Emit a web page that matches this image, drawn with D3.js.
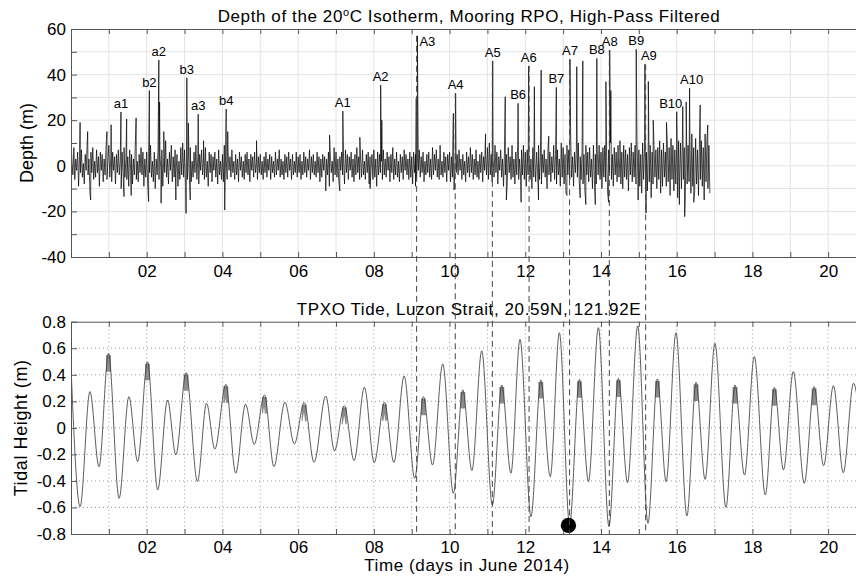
<!DOCTYPE html>
<html><head><meta charset="utf-8">
<script src="https://cdn.jsdelivr.net/npm/d3@7/dist/d3.min.js"></script>
<style>
body{margin:0;background:#fff;}
svg{display:block;font-family:"Liberation Sans",Arial,Helvetica,sans-serif;}
</style></head><body>
<svg id="chart" width="856" height="577"></svg>
<script>
// ---------------- DATA ----------------
const depthStep = 0.025; // days between base samples
const depthBase = [
 11,2,-4,8,-6,3,-2,6,-9,4,-3,7,-5,1,-8,5,-2,9,-4,3,-12,6,-3,8,-6,2,-5,7,-3,4,-9,6,-2,5,-7,3,-4,8,-6,2,
 9,-5,3,-7,6,-2,4,-8,5,-3,7,-4,2,-10,6,-3,8,-5,3,-6,4,-9,7,-2,5,-8,3,-4,10,-6,2,-7,5,-3,8,-4,6,-9,3,-5,
 6,-8,4,-3,9,-5,2,-7,6,-10,3,-4,8,-6,5,-2,7,-9,4,-3,11,-5,3,-8,6,-2,9,-7,4,-5,7,-3,5,-9,2,-6,8,-4,10,-5,
 7,-9,3,-6,5,-4,8,-7,2,-5,6,-3,9,-6,4,-8,5,-2,7,-4,3,-6,8,-5,2,-9,6,-3,5,-7,4,-2,6,-5,3,-8,7,-4,2,-6,
 5,-7,9,-4,3,-6,6,-2,4,-5,7,-3,2,-6,5,-4,3,-7,6,-2,4,-5,2,-6,5,-3,6,-4,3,-7,5,-2,4,-5,6,-3,2,-6,4,-3,
 5,-4,2,-6,4,-3,6,-5,3,-2,5,-6,4,-3,2,-5,6,-4,3,-2,7,-5,3,-4,2,-6,5,-3,4,-5,6,-2,3,-6,5,-4,2,-3,6,-5,
 4,-3,5,-6,2,-4,6,-3,4,-5,3,-2,7,-6,4,-3,5,-4,2,-5,6,-3,4,-7,3,-5,5,-2,4,-6,3,-4,6,-9,5,-3,2,-7,8,-4,
 6,-5,3,-7,4,-2,6,-4,3,-8,7,-3,5,-6,4,-2,6,-5,3,-7,5,-4,8,-3,4,-6,3,-5,7,-4,2,-6,5,-3,6,-8,4,-2,5,-6,
 7,-5,3,-9,6,-4,5,-3,2,-6,7,-4,3,-5,6,-2,4,-7,5,-3,8,-6,3,-4,6,-5,2,-7,5,-3,4,-6,7,-2,5,-4,3,-6,6,-5,
 4,-8,6,-3,5,-6,3,-2,7,-5,4,-3,6,-7,2,-4,5,-3,6,-5,3,-6,8,-4,5,-2,7,-5,3,-6,9,-4,2,-5,6,-3,4,-7,5,-2,
 6,-7,4,-5,3,-8,6,-3,5,-4,7,-2,3,-6,5,-4,2,-7,6,-3,4,-5,8,-3,5,-6,3,-4,7,-5,2,-6,5,-3,6,-7,4,-2,5,-4,
 8,-6,10,-4,5,-7,3,-5,9,-3,6,-8,4,-2,7,-5,3,-9,6,-4,5,-7,8,-3,4,-6,9,-5,3,-8,6,-4,10,-6,3,-5,7,-4,9,-6,
 6,-9,7,-4,5,-6,3,-10,8,-5,4,-7,6,-3,9,-6,4,-8,5,-3,7,-5,3,-10,8,-4,6,-7,4,-3,9,-6,5,-8,7,-4,3,-9,10,-5,
 8,-8,5,-12,9,-4,7,-6,11,-5,4,-9,6,-3,8,-5,10,-7,4,-6,7,-8,5,-11,9,-4,6,-7,8,-5,3,-10,9,-6,5,-8,7,-4,9,-6,
 6,-10,8,-5,9,-7,4,-12,7,-3,10,-6,5,-9,8,-4,6,-7,9,-5,4,-8,6,-10,9,-5,7,-6,5,-11,8,-4,10,-7,6,-5,9,-8,12,-6,
 7,-9,5,-12,10,-6,8,-5,6,-11,12,-7,9,-14,6,-8,9,-5,7,-10,8,-6,11,-12,7,-9,10,-5,6,-9,11,-7,8,-13,12,-6,9,-11,7,-8,
 9,-14,11,-7,10,-10,12,-6,8,-15,13,-8,9,-7,10,-12,14,-9,8,-11,12,-8,7,-13,10,-6,11,-9,8,-15,14,-7,12,-10,9,-12
];
const spikeDays = [0.24,0.44,0.52,0.95,1.06,1.32,1.40,1.47,1.59,1.72,2.05,2.07,2.32,2.34,2.38,2.45,2.77,
 3.04,3.06,3.10,3.15,3.36,3.50,4.06,4.10,4.14,4.90,6.73,6.83,7.10,7.18,7.63,7.90,8.18,8.21,9.10,9.12,9.15,
 10.10,10.12,10.16,10.95,11.14,11.47,11.50,11.81,11.89,12.09,12.24,12.35,12.42,12.62,12.82,13.10,13.18,
 13.36,13.45,13.52,13.60,13.85,13.89,14.13,14.20,14.23,14.26,14.50,14.93,14.98,15.16,15.19,15.25,15.38,
 15.73,16.00,16.07,16.16,16.21,16.25,16.34,16.45,16.62,16.82];
const spikeVals = [19,15,-15,15,18,23.6,-13.5,20.5,-13,21,-15.7,33,46.4,28,-16.4,15,-15,
 -20.9,38.6,18.7,-15,22.6,11,-19.4,24.9,15,11,-11,13.5,-11,24,12.5,-10,35.4,20,-9,29.7,57,
 23,-10.6,31.8,14,46,30.3,-15,27.4,-16,43.8,34.7,-15,42,13,34.4,-13,46.7,
 43.5,-14,46,-17,-17,47.1,36.9,-16,50.8,33,11,51.1,-15,44.5,-20.8,37,20,
 19,23.7,-17,26,-22.3,28,34,-16,26.7,17.9];

const eventNames = ["a1","b2","a2","b3","a3","b4","A1","A2","A3","A4","A5","B6","A6","B7","A7","B8","A8","B9","A9","B10","A10"];
const eventDays  = [1.32,2.07,2.32,3.06,3.36,4.10,7.18,8.18,9.15,10.16,11.14,11.81,12.09,12.82,13.18,13.89,14.23,14.93,15.16,16.00,16.34];
const eventPeaks = [23.6,33,46.4,38.6,22.6,24.9,24,35.4,57,31.8,46,27.4,43.8,34.4,46.7,47.1,50.8,51.1,44.5,23.7,34];

const dashedNames = ["A3","A4","A5","A6","A7","A8","A9"];
const dashedDays  = [9.13,10.15,11.13,12.10,13.17,14.22,15.18];
const dashedTops  = [57,31.8,46,43.8,46.7,50.8,44.5];

// tide extrema (day, metres)
const tideDays = [-0.02,0.24,0.50,0.74,0.99,1.27,1.53,1.76,2.02,2.29,2.55,2.77,3.04,3.34,3.58,3.80,4.09,4.35,4.61,4.84,
 5.11,5.36,5.65,5.90,6.16,6.42,6.73,6.96,7.22,7.48,7.75,8.01,8.28,8.53,8.80,9.08,9.31,9.55,9.82,10.10,
 10.35,10.59,10.85,11.13,11.38,11.62,11.86,12.15,12.41,12.66,12.90,13.17,13.43,13.67,13.93,14.21,14.46,14.70,14.97,15.24,
 15.49,15.72,15.98,16.27,16.51,16.75,17.01,17.30,17.54,17.79,18.05,18.34,18.58,18.82,19.08,19.37,19.63,19.88,20.14,20.40,
 20.67,20.93];
const tideVals = [0.60,-0.594,0.273,-0.293,0.562,-0.531,0.235,-0.254,0.498,-0.468,0.21,-0.204,0.417,-0.405,0.185,-0.161,0.328,-0.342,0.178,-0.124,
 0.248,-0.292,0.193,-0.121,0.19,-0.26,0.24,-0.174,0.168,-0.247,0.306,-0.262,0.193,-0.262,0.391,-0.38,0.235,-0.28,0.482,-0.493,
 0.286,-0.322,0.58,-0.581,0.323,-0.342,0.667,-0.669,0.361,-0.368,0.717,-0.73,0.366,-0.405,0.755,-0.744,0.373,-0.413,0.768,-0.719,
 0.369,-0.405,0.717,-0.664,0.343,-0.388,0.637,-0.599,0.323,-0.355,0.537,-0.506,0.306,-0.317,0.424,-0.418,0.311,-0.285,0.318,-0.338,
 0.336,-0.30];
const tideHighlightDays = [0.99,2.02,3.04,4.09,5.11,6.16,7.22,8.28,9.31,10.35,11.38,12.41,13.43,14.46,15.49,16.51,17.54,18.58,19.63];
const markerDay = 13.14, markerVal = -0.735;

const xTickDays = [1,2,3,4,5,6,7,8,9,10,11,12,13,14,15,16,17,18,19,20,21];
const xTickLabels = {2:"02",4:"04",6:"06",8:"08",10:"10",12:"12",14:"14",16:"16",18:"18",20:"20"};
const topYTicks = [-40,-30,-20,-10,0,10,20,30,40,50,60];
const topYLabels = {"60":"60","40":"40","20":"20","0":"0","-20":"-20","-40":"-40"};
const botYTicks = [-0.8,-0.6,-0.4,-0.2,0,0.2,0.4,0.6,0.8];
const botYLabels = ["-0.8","-0.6","-0.4","-0.2","0","0.2","0.4","0.6","0.8"];

// ---------------- SCALES ----------------
const svg = d3.select("#chart");
const x = d3.scaleLinear().domain([0,21]).range([71,866]);
const yT = d3.scaleLinear().domain([-40,60]).range([257,29]);
const yB = d3.scaleLinear().domain([-0.8,0.8]).range([534,321.7]);
const AX = "#555";

const defs = svg.append("defs");
defs.append("clipPath").attr("id","clipT").append("rect")
  .attr("x",x(0)).attr("y",yT(60)).attr("width",x(21)-x(0)).attr("height",yT(-40)-yT(60));
defs.append("clipPath").attr("id","clipB").append("rect")
  .attr("x",x(0)).attr("y",yB(0.8)).attr("width",x(21)-x(0)).attr("height",yB(-0.8)-yB(0.8));

// ---------------- TOP PANEL ----------------
const gT = svg.append("g");
gT.append("g").selectAll("line").data(xTickDays).join("line")
  .attr("x1",d=>x(d)).attr("x2",d=>x(d)).attr("y1",yT(60)).attr("y2",yT(-40))
  .attr("stroke","#e4e4e4").attr("stroke-width",1);
gT.append("g").selectAll("line").data(topYTicks.filter(v=>v>-40&&v<60)).join("line")
  .attr("x1",x(0)).attr("x2",x(21)).attr("y1",d=>yT(d)).attr("y2",d=>yT(d))
  .attr("stroke","#e4e4e4").attr("stroke-width",1);

const depthPts = depthBase.map((v,i)=>[i*depthStep,v])
  .concat(spikeDays.map((d,i)=>[d,spikeVals[i]]))
  .sort((a,b)=>a[0]-b[0]);
gT.append("path").datum(depthPts).attr("clip-path","url(#clipT)")
  .attr("fill","none").attr("stroke","#000").attr("stroke-width",0.7).attr("stroke-linejoin","round")
  .attr("d",d3.line().x(d=>x(d[0])).y(d=>yT(d[1])));

const fmtX = d => xTickLabels[d] || "";
gT.append("g").attr("transform",`translate(0,${yT(-40)})`)
  .call(d3.axisBottom(x).tickValues(xTickDays).tickFormat(fmtX).tickSizeInner(-5).tickSizeOuter(0).tickPadding(8));
gT.append("g").attr("transform",`translate(0,${yT(60)})`)
  .call(d3.axisTop(x).tickValues(xTickDays).tickFormat("").tickSizeInner(-5).tickSizeOuter(0));
gT.append("g").attr("transform",`translate(${x(0)},0)`)
  .call(d3.axisLeft(yT).tickValues(topYTicks).tickFormat(d=>topYLabels[String(d)]||"").tickSizeInner(-6).tickSizeOuter(0).tickPadding(5));

const nudge = {"A9":4,"B10":-6,"A10":2};
gT.append("g").selectAll("text").data(eventNames).join("text")
  .attr("x",(d,i)=> d==="A3" ? x(eventDays[i])+2 : x(eventDays[i])+(nudge[d]||0))
  .attr("y",(d,i)=> d==="A3" ? yT(eventPeaks[i])+10 : yT(eventPeaks[i])-4)
  .attr("text-anchor",d=> d==="A3" ? "start" : "middle")
  .attr("font-size",13).attr("fill","#000").text(d=>d);

const t1 = svg.append("text").attr("x",469).attr("y",22).attr("text-anchor","middle")
  .attr("font-size",17).attr("letter-spacing",0.6).attr("fill","#000");
t1.append("tspan").text("Depth of the 20");
t1.append("tspan").attr("dy",-6).attr("font-size",11).text("o");
t1.append("tspan").attr("dy",6).text("C Isotherm, Mooring RPO, High-Pass Filtered");

svg.append("text").attr("transform",`translate(33,${(yT(60)+yT(-40))/2}) rotate(-90)`)
  .attr("text-anchor","middle").attr("font-size",18).attr("fill","#000").text("Depth (m)");

// ---------------- BOTTOM PANEL ----------------
const gB = svg.append("g");
gB.append("g").selectAll("line").data(xTickDays).join("line")
  .attr("x1",d=>x(d)).attr("x2",d=>x(d)).attr("y1",yB(0.8)).attr("y2",yB(-0.8))
  .attr("stroke","#999").attr("stroke-width",1).attr("stroke-dasharray","1,3");
gB.append("g").selectAll("line").data(botYTicks.filter(v=>Math.abs(v)<0.79)).join("line")
  .attr("x1",x(0)).attr("x2",x(21)).attr("y1",d=>yB(d)).attr("y2",d=>yB(d))
  .attr("stroke","#999").attr("stroke-width",1).attr("stroke-dasharray","1,3");

const tidePts = tideDays.map((d,i)=>[d,tideVals[i]]);
const tideLine = d3.line().x(d=>x(d[0])).y(d=>yB(d[1])).curve(d3.curveMonotoneX);

tideHighlightDays.forEach((hd,k)=>{
  let best=0; tideDays.forEach((d,i)=>{ if(Math.abs(d-hd)<Math.abs(tideDays[best]-hd)) best=i; });
  const pv = tideVals[best];
  defs.append("clipPath").attr("id","hl"+k).append("rect")
    .attr("x",x(hd-0.065)).attr("width",x(hd+0.065)-x(hd-0.065))
    .attr("y",yB(pv-0.015)).attr("height",yB(pv-0.14)-yB(pv-0.015));
  gB.append("path").datum(tidePts).attr("clip-path",`url(#hl${k})`)
    .attr("fill","none").attr("stroke","#8c8c8c").attr("stroke-width",5.5).attr("d",tideLine);
});

gB.append("g").attr("clip-path","url(#clipB)").append("path").datum(tidePts)
  .attr("fill","none").attr("stroke","#333").attr("stroke-width",0.8).attr("d",tideLine);

gB.append("g").attr("transform",`translate(0,${yB(-0.8)})`)
  .call(d3.axisBottom(x).tickValues(xTickDays).tickFormat(fmtX).tickSizeInner(-5).tickSizeOuter(0).tickPadding(7));
gB.append("g").attr("transform",`translate(0,${yB(0.8)})`)
  .call(d3.axisTop(x).tickValues(xTickDays).tickFormat("").tickSizeInner(-5).tickSizeOuter(0));
gB.append("g").attr("transform",`translate(${x(0)},0)`)
  .call(d3.axisLeft(yB).tickValues(botYTicks).tickFormat((d,i)=>botYLabels[i]).tickSizeInner(-6).tickSizeOuter(0).tickPadding(5));

svg.append("text").attr("x",469).attr("y",315).attr("text-anchor","middle")
  .attr("font-size",17).attr("letter-spacing",0.6).attr("fill","#000").text("TPXO Tide, Luzon Strait, 20.59N, 121.92E");
svg.append("text").attr("x",467).attr("y",571).attr("text-anchor","middle")
  .attr("font-size",17).attr("letter-spacing",0.6).attr("fill","#000").text("Time (days in June 2014)");
svg.append("text").attr("transform",`translate(27,${(yB(0.8)+yB(-0.8))/2}) rotate(-90)`)
  .attr("text-anchor","middle").attr("font-size",18).attr("letter-spacing",0.6).attr("fill","#000").text("Tidal Height (m)");

svg.append("circle").attr("cx",x(markerDay)).attr("cy",yB(markerVal)).attr("r",7.7).attr("fill","#000");

svg.append("g").selectAll("line").data(dashedNames).join("line")
  .attr("x1",(d,i)=>x(dashedDays[i])).attr("x2",(d,i)=>x(dashedDays[i]))
  .attr("y1",(d,i)=>yT(dashedTops[i])).attr("y2",yB(-0.8))
  .attr("stroke","#444").attr("stroke-width",1).attr("stroke-dasharray","6,4");

svg.selectAll(".domain").attr("stroke",AX);
svg.selectAll(".tick line").attr("stroke",AX);
svg.selectAll(".tick text").attr("font-size",17).attr("fill","#000")
  .attr("font-family","'Liberation Sans',Arial,Helvetica,sans-serif");
</script>
</body></html>
